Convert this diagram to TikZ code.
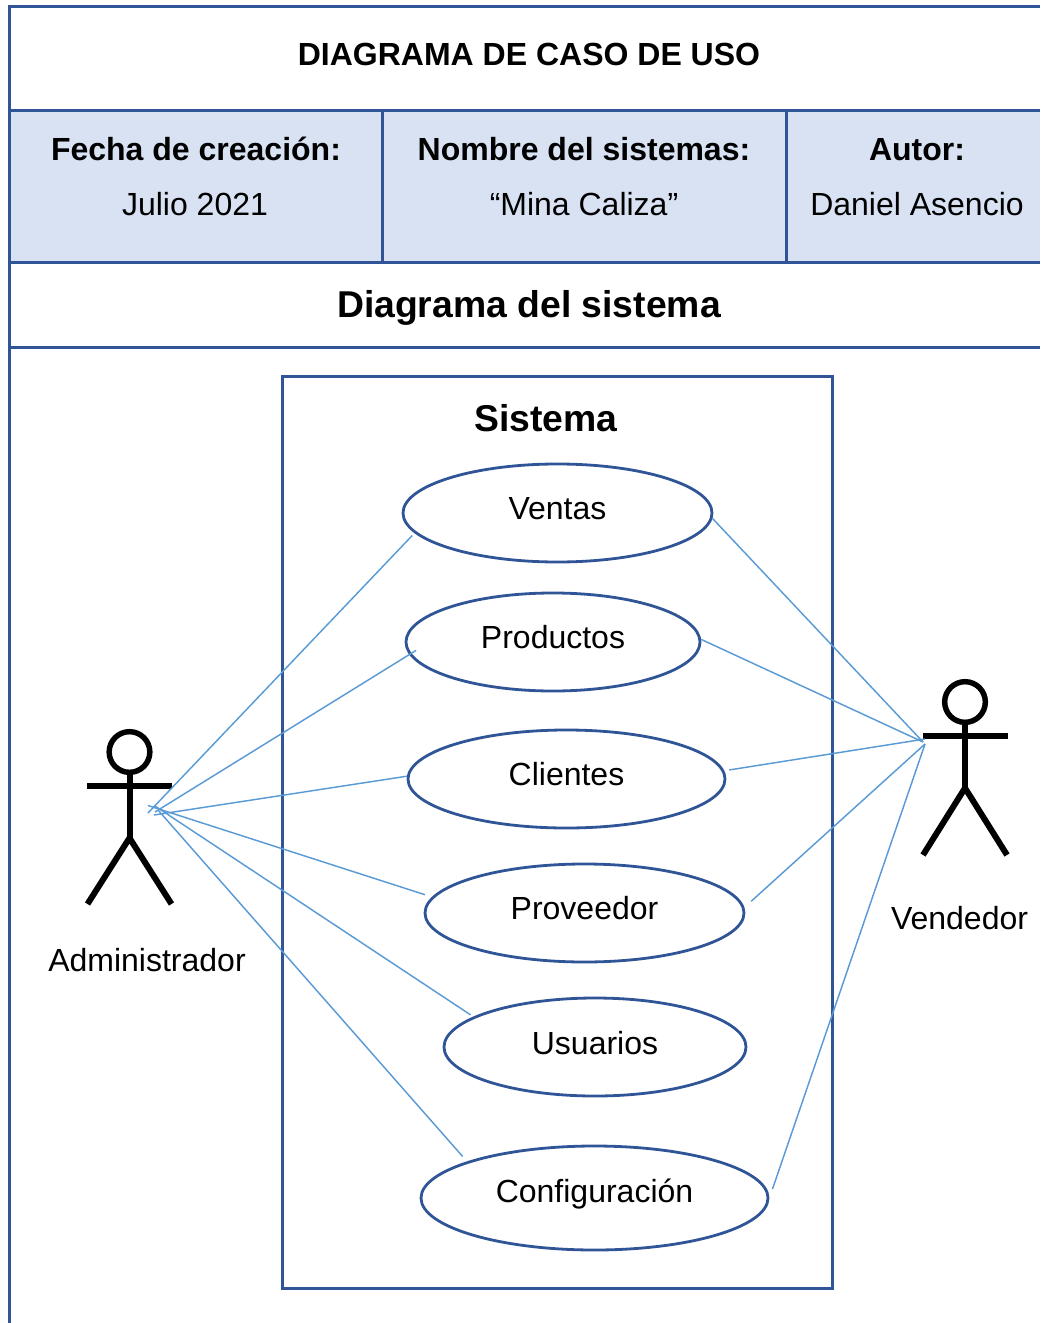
\documentclass[tikz,border=0pt]{standalone}
\usepackage{fontspec}
\setmainfont{Liberation Sans}
\usetikzlibrary{shapes.geometric}
\definecolor{frame}{HTML}{2F5597}
\definecolor{band}{HTML}{D9E2F3}
\definecolor{conn}{HTML}{5B9BD5}
\tikzset{
  tableline/.style={draw=frame,line width=2.25pt},
  sysbox/.style={draw=frame,line width=2.25pt},
  usecase/.style={ellipse,draw=frame,line width=2.1pt,inner sep=0pt,fill=none,
    font=\fontsize{24}{28}\selectfont,text height=9.75pt,text depth=0pt},
  assoc/.style={draw=conn,line width=1.1pt},
  stick/.style={draw=black,line width=4.5pt},
  head/.style={circle,draw=black,line width=4.1pt,inner sep=0pt,minimum size=30.5pt},
  body/.style={anchor=base,inner sep=0pt,font=\fontsize{24}{28}\selectfont},
  boldbody/.style={body,font=\fontsize{24}{28}\selectfont\bfseries},
  bigbold/.style={body,font=\fontsize{28}{32}\selectfont\bfseries},
}
\begin{document}
\begin{tikzpicture}[x=0.75pt,y=-0.75pt]
\useasboundingbox (0,0) rectangle (1040,1323);
% table
\fill[band] (9.5,110.5) rectangle (1040,262.5);
\draw[tableline] (1040,6.5) -- (9.5,6.5) -- (9.5,1323);
\draw[tableline] (9.5,110.5) -- (1040,110.5);
\draw[tableline] (9.5,262.5) -- (1040,262.5);
\draw[tableline] (9.5,347.5) -- (1040,347.5);
\draw[tableline] (382.5,110.5) -- (382.5,262.5);
\draw[tableline] (786.5,110.5) -- (786.5,262.5);
\node[boldbody] (title) at (529,66) {DIAGRAMA DE CASO DE USO};
\node[boldbody] (fechaH) at (196,161) {Fecha de creación:};
\node[body] (fechaV) at (195,216) {Julio 2021};
\node[boldbody] (nombreH) at (584,161) {Nombre del sistemas:};
\node[body] (nombreV) at (584,216) {“Mina Caliza”};
\node[boldbody] (autorH) at (917,161) {Autor:};
\node[body] (autorV) at (917,216) {Daniel Asencio};
\node[bigbold] (diagrama) at (529,317) {Diagrama del sistema};
% system
\draw[sysbox] (282.5,376) rectangle (832.5,1288);
\node[bigbold] (sistema) at (546,431) {Sistema};
% use cases
\node[usecase,minimum width=231.75pt,minimum height=73.5pt] (ventas) at (557.5,513) {Ventas};
\node[usecase,minimum width=220.5pt,minimum height=73.5pt] (productos) at (553,642) {Productos};
\node[usecase,minimum width=237.75pt,minimum height=73.5pt] (clientes) at (566.5,779) {Clientes};
\node[usecase,minimum width=239.25pt,minimum height=73.5pt] (proveedor) at (584.5,913) {Proveedor};
\node[usecase,minimum width=226.5pt,minimum height=73.5pt,text height=10.5pt] (usuarios) at (595,1047) {Usuarios};
\node[usecase,minimum width=260.25pt,minimum height=78pt,text height=6pt] (config) at (594.5,1198) {Configuración};
% administrador
\node[head] (adminHead) at (129.5,752) {};
\draw[stick] (87,786) -- (172,786);
\draw[stick] (adminHead.south) -- (129.5,838);
\draw[stick,line join=bevel] (87.5,904) -- (129.5,838) -- (171.5,904);
\node[body] (adminLabel) at (147,971) {Administrador};
% vendedor
\node[head] (vendHead) at (965,702) {};
\draw[stick] (923,736) -- (1008,736);
\draw[stick] (vendHead.south) -- (965,788);
\draw[stick,line join=bevel] (923,855) -- (965,788) -- (1007,855);
\node[body] (vendLabel) at (959.5,929) {Vendedor};
% free ends of the associations
\coordinate (a1) at (148,813);
\coordinate (a2) at (155,812);
\coordinate (a3) at (154,815);
\coordinate (a4) at (148,805.5);
\coordinate (a5) at (155,806);
\coordinate (a6) at (158,810);
\coordinate (v1) at (923,742);
\coordinate (v2) at (923,742);
\coordinate (v3) at (925,739);
\coordinate (v4) at (925,744);
\coordinate (v5) at (925,744);
% associations
\draw[assoc,shorten >=2.5pt] (a1) -- (ventas.188);
\draw[assoc,shorten >=-6pt] (a2) -- (productos.185);
\draw[assoc] (a3) -- (clientes.179);
\draw[assoc,shorten >=5.6pt] (a4) -- (proveedor.174);
\draw[assoc,shorten >=2.5pt] (a5) -- (usuarios.166.8);
\draw[assoc,shorten >=5pt] (a6) -- (config.164);
\draw[assoc] (v1) -- (ventas.-2.2);
\draw[assoc] (v2) -- (productos.1.5);
\draw[assoc,shorten >=3.75pt] (v3) -- (clientes.3.5);
\draw[assoc,shorten >=6.9pt] (v4) -- (proveedor.2.2);
\draw[assoc,shorten >=7.1pt] (v5) -- (config.-0.6);
\end{tikzpicture}
\end{document}
